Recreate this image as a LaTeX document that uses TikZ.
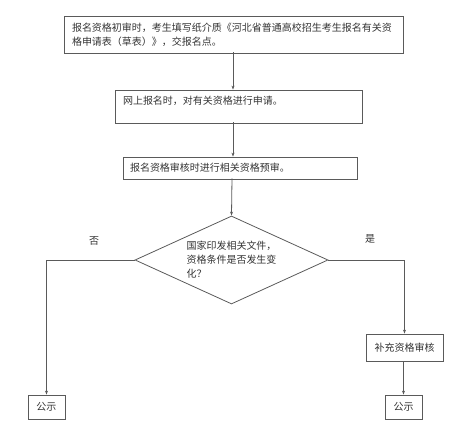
\documentclass[tikz,border=0pt]{standalone}
\usepackage{fontspec}
\setmainfont{Noto Sans CJK SC}
\usepackage{tikz}
\usetikzlibrary{arrows.meta, positioning, shapes.geometric}
\definecolor{cline}{HTML}{5A5A5A}
\definecolor{ctext}{HTML}{333333}

\begin{document}
\begin{tikzpicture}[x=1pt, y=-1pt,
    font=\fontsize{10}{14}\selectfont, text=ctext,
    stepbox/.style={draw=cline, line width=0.8pt, inner xsep=8pt, align=left},
    smallbox/.style={draw=cline, line width=0.8pt, inner sep=0pt, align=center},
    flow/.style={draw=cline, line width=0.8pt, -{Stealth[length=4pt, width=3pt]}}]
  \useasboundingbox (0,0) rectangle (467,430);

  % steps
  \node[stepbox, text width=323pt, minimum height=37pt] (apply) at (233.5,34.5)
    {报名资格初审时，考生填写纸介质《河北省普通高校招生考生报名有关资\\格申请表（草表）》，交报名点。};
  \node[stepbox, text width=231pt, minimum height=33pt, inner ysep=5pt, text depth=13pt] (online) at (238.5,106.5)
    {网上报名时，对有关资格进行申请。};
  \node[stepbox, inner xsep=7pt, text width=220pt, minimum height=22pt] (precheck) at (240,168)
    {报名资格审核时进行相关资格预审。};

  % decision
  \node[diamond, draw=cline, line width=0.8pt, aspect=2.2, inner sep=2pt,
        minimum width=193pt, minimum height=88pt, text width=90pt, align=left] (decide) at (231.5,260)
    {国家印发相关文件，\\资格条件是否发生变\\化？};
  \node (no) at (94,241) {否};
  \node (yes) at (370,239) {是};

  \node[smallbox, minimum width=37pt, minimum height=24pt] (publeft) at (46.5,407) {公示};
  \node[smallbox, minimum width=77pt, minimum height=27pt] (extra) at (404.5,347.5) {补充资格审核};
  \node[smallbox, minimum width=37pt, minimum height=24pt] (pubright) at (403.5,407) {公示};

  % connectors
  \draw[flow] (233,52.5) coordinate (a1) -- (a1 |- online.north);
  \draw[flow] (233,122.5) coordinate (a2) -- (a2 |- precheck.north);
  \draw[flow] (232,178.5) coordinate (a3) -- (decide.north);
  \draw[flow] (decide.west) -| (publeft.north);
  \draw[flow] (decide.east) -| (extra.north);
  \draw[flow] (extra.south -| pubright.north) -- (pubright.north);
\end{tikzpicture}
\end{document}
